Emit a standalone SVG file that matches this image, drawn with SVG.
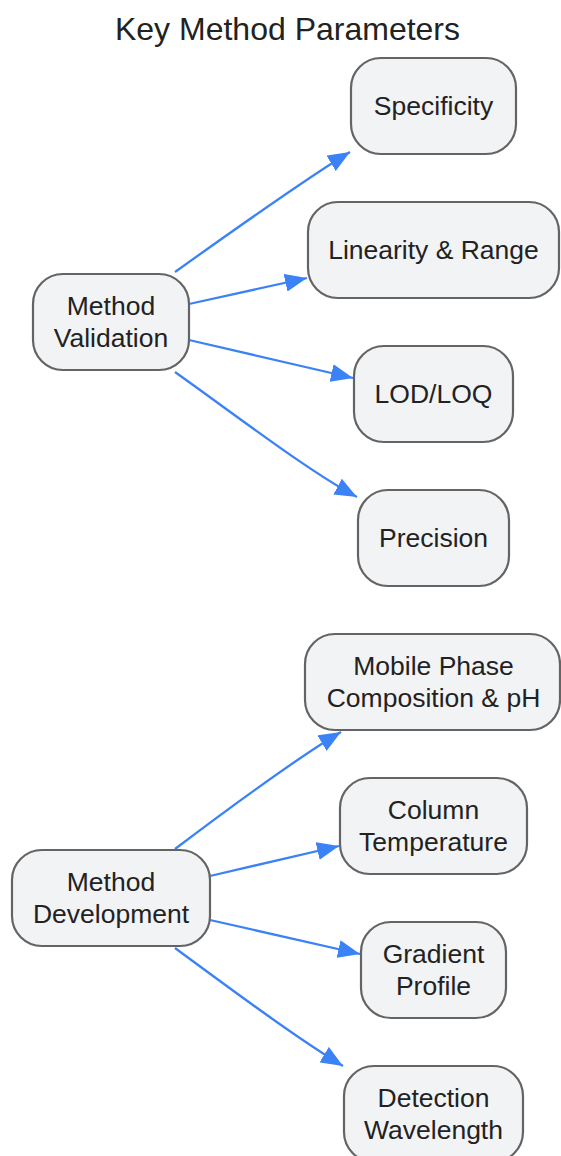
<svg xmlns="http://www.w3.org/2000/svg" width="561" height="1156" viewBox="0 0 561 1156">
<style>
.node rect{fill:#f2f3f5;stroke:#646464;stroke-width:2.2}
.node text,.title{font-family:"Liberation Sans",Arial,sans-serif;fill:#222;text-anchor:middle}
.node text{font-size:26.5px}
.title{font-size:32px}
.edges path{fill:none;stroke:#3b82f6;stroke-width:2.3}
</style>
<defs>
<marker id="arrow" markerUnits="userSpaceOnUse" markerWidth="24" markerHeight="18" refX="22" refY="9" orient="auto">
<path d="M0,0 L22,9 L0,18 Z" fill="#3b82f6"/>
</marker>
</defs>
<rect width="561" height="1156" fill="#fff"/>
<text class="title" x="287.5" y="40">Key Method Parameters</text>
<g class="edges">
<path d="M175,272 C245,222 310,176 350,152" marker-end="url(#arrow)"/>
<path d="M189,304 L307,278" marker-end="url(#arrow)"/>
<path d="M189,340 L353,378" marker-end="url(#arrow)"/>
<path d="M175,372 C245,422 310,472 357,497" marker-end="url(#arrow)"/>
<path d="M175,849 C240,800 300,756 341,732" marker-end="url(#arrow)"/>
<path d="M210,876 L339,846" marker-end="url(#arrow)"/>
<path d="M210,920 L360,954" marker-end="url(#arrow)"/>
<path d="M175,948 C240,996 300,1040 343,1066" marker-end="url(#arrow)"/>
</g>
<g id="method-validation" class="node">
<rect x="33" y="274" width="156" height="96" rx="30"/>
<text x="111" y="315">Method</text>
<text x="111" y="347">Validation</text>
</g>
<g id="specificity" class="node">
<rect x="351" y="58" width="165" height="96" rx="30"/>
<text x="433.5" y="115">Specificity</text>
</g>
<g id="linearity" class="node">
<rect x="308" y="202" width="251" height="96" rx="30"/>
<text x="433.5" y="259">Linearity &amp; Range</text>
</g>
<g id="lodloq" class="node">
<rect x="354" y="346" width="159" height="96" rx="30"/>
<text x="433.5" y="403">LOD/LOQ</text>
</g>
<g id="precision" class="node">
<rect x="358" y="490" width="151" height="96" rx="30"/>
<text x="433.5" y="547">Precision</text>
</g>
<g id="method-development" class="node">
<rect x="12" y="850" width="198" height="96" rx="30"/>
<text x="111" y="891">Method</text>
<text x="111" y="923">Development</text>
</g>
<g id="mobile-phase" class="node">
<rect x="305" y="634" width="255" height="96" rx="30"/>
<text x="433.5" y="675">Mobile Phase</text>
<text x="433.5" y="707">Composition &amp; pH</text>
</g>
<g id="column-temperature" class="node">
<rect x="340" y="778" width="187" height="96" rx="30"/>
<text x="433.5" y="819">Column</text>
<text x="433.5" y="851">Temperature</text>
</g>
<g id="gradient-profile" class="node">
<rect x="361" y="922" width="145" height="96" rx="30"/>
<text x="433.5" y="963">Gradient</text>
<text x="433.5" y="995">Profile</text>
</g>
<g id="detection-wavelength" class="node">
<rect x="344" y="1066" width="179" height="96" rx="30"/>
<text x="433.5" y="1107">Detection</text>
<text x="433.5" y="1139">Wavelength</text>
</g>
</svg>
